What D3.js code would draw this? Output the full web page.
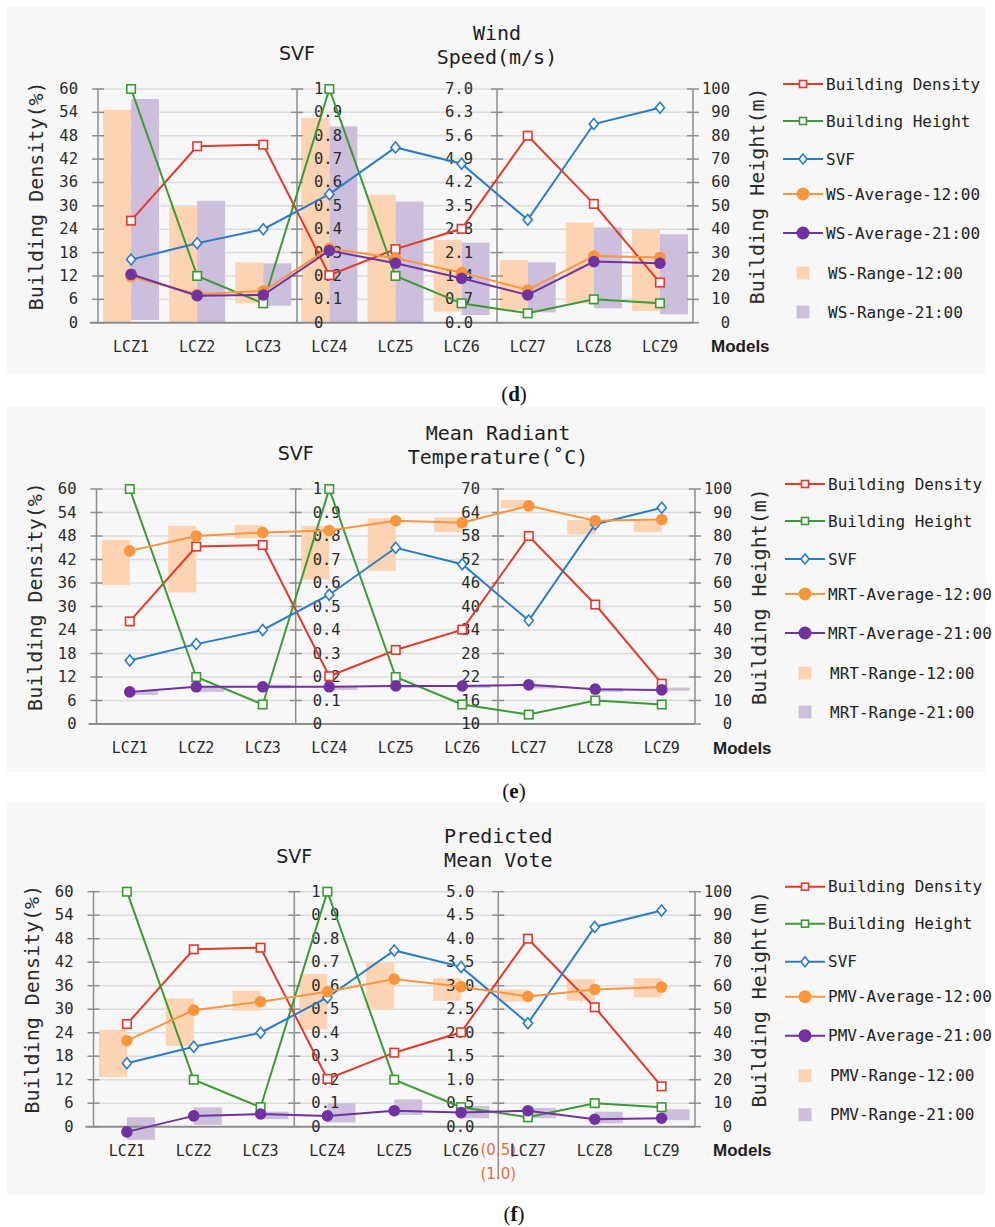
<!DOCTYPE html>
<html>
<head>
<meta charset="utf-8">
<script src="https://cdn.jsdelivr.net/npm/d3@7"></script>
<style>
  body { margin: 0; background: #fff; }
  svg text { fill: #2a2a2a; }
</style>
</head>
<body>
<svg id="chart" width="995" height="1227"></svg>
<script>
'use strict'

// shared x categories and building descriptors
const categories = ['LCZ1', 'LCZ2', 'LCZ3', 'LCZ4', 'LCZ5', 'LCZ6', 'LCZ7', 'LCZ8', 'LCZ9']
const buildingDensity = [26.2, 45.3, 45.7, 12.2, 18.9, 24.1, 48.0, 30.5, 10.3]
const buildingHeight = [100, 20, 8.3, 100, 20, 8.3, 4, 10, 8.3]
const svf = [0.27, 0.34, 0.40, 0.55, 0.75, 0.68, 0.44, 0.85, 0.92]

// tick values
const densityTicks = d3.range(0, 61, 6)
const heightTicks = d3.range(0, 101, 10)
const svfTicks = d3.range(0, 11).map(d => d / 10)
const wsTicks = d3.range(0, 11).map(d => d * 0.7)
const mrtTicks = d3.range(10, 71, 6)
const pmvTicks = d3.range(0, 11).map(d => d * 0.5)
const pmvNegTicks = [-0.5, -1.0]

// (d) wind speed
const wsAvg12 = [1.38, 0.85, 0.95, 2.23, 1.93, 1.50, 0.98, 2.00, 1.95]
const wsAvg21 = [1.45, 0.81, 0.83, 2.16, 1.78, 1.33, 0.83, 1.83, 1.78]
const wsRange12Low = [0, 0, 0.58, 0, 0, 0.33, 0.38, 0.58, 0.35]
const wsRange12High = [6.38, 3.48, 1.81, 6.13, 3.83, 2.48, 1.88, 3.00, 2.78]
const wsRange21Low = [0.08, 0, 0.51, 0, 0, 0.23, 0.31, 0.43, 0.25]
const wsRange21High = [6.70, 3.65, 1.78, 5.88, 3.63, 2.40, 1.81, 2.85, 2.65]

// (e) mean radiant temperature
const mrtAvg12 = [54.2, 58.0, 58.9, 59.4, 61.9, 61.4, 65.7, 61.9, 62.2]
const mrtAvg21 = [18.2, 19.5, 19.5, 19.5, 19.7, 19.7, 20.0, 18.9, 18.7]
const mrtRange12Low = [45.5, 43.6, 57.4, 46.9, 49.1, 59.0, 65.1, 58.4, 59.0]
const mrtRange12High = [57.0, 60.6, 60.8, 60.6, 62.5, 62.8, 67.2, 62.1, 61.9]
const mrtRange21Low = [17.4, 18.2, 19.1, 18.7, 19.2, 19.2, 19.1, 18.2, 18.5]
const mrtRange21High = [18.5, 19.5, 20.0, 19.7, 20.0, 20.0, 20.0, 19.1, 19.3]

// (f) predicted mean vote
const pmvAvg12 = [1.83, 2.48, 2.66, 2.87, 3.14, 2.98, 2.77, 2.92, 2.97]
const pmvAvg21 = [-0.11, 0.23, 0.27, 0.23, 0.34, 0.30, 0.34, 0.16, 0.18]
const pmvRange12Low = [1.06, 1.72, 2.47, 2.07, 2.50, 2.68, 2.66, 2.68, 2.75]
const pmvRange12High = [2.06, 2.73, 2.89, 3.25, 3.48, 3.16, 2.92, 3.14, 3.16]
const pmvRange21Low = [-0.28, 0.04, 0.16, 0.09, 0.25, 0.18, 0.18, 0.07, 0.14]
const pmvRange21High = [0.20, 0.41, 0.32, 0.50, 0.58, 0.44, 0.40, 0.32, 0.37]

const colors = {
  density: '#e3392b',
  height: '#3c9a35',
  svf: '#2b7cc6',
  avg12: '#f9963d',
  avg21: '#7231a1',
  range12: '#fdd4b3',
  range21: '#cdbfdc',
  axis: '#8e8e8e',
  grid: '#dcdcdc',
  bg: '#f7f7f7'
}
const mono = "'DejaVu Sans Mono', 'Liberation Mono', monospace"
const legendOffsets = [-5, 32, 70, 105, 144, 184, 223]

const panels = [
  {
    label: 'd', prefix: 'WS', title: ['Wind', 'Speed(m/s)'], domain: [0, 7], ticks: wsTicks, fmt: d3.format('.1f'),
    avg12: wsAvg12, avg21: wsAvg21, r12: [wsRange12Low, wsRange12High], r21: [wsRange21Low, wsRange21High],
    bgTop: 7, bgBottom: 373, top: 89, bottom: 322.7, x0: 98, x1: 693, svfX: 297, thirdX: 497, thirdOff: 24, labelY: 401
  },
  {
    label: 'e', prefix: 'MRT', title: ['Mean Radiant', 'Temperature(\u02daC)'], domain: [10, 70], ticks: mrtTicks, fmt: d3.format('d'),
    avg12: mrtAvg12, avg21: mrtAvg21, r12: [mrtRange12Low, mrtRange12High], r21: [mrtRange21Low, mrtRange21High],
    bgTop: 407, bgBottom: 772, top: 489, bottom: 724, x0: 96.5, x1: 695, svfX: 295.7, thirdX: 498, thirdOff: 18, labelY: 798
  },
  {
    label: 'f', prefix: 'PMV', title: ['Predicted', 'Mean Vote'], domain: [0, 5], ticks: pmvTicks, fmt: d3.format('.1f'),
    avg12: pmvAvg12, avg21: pmvAvg21, r12: [pmvRange12Low, pmvRange12High], r21: [pmvRange21Low, pmvRange21High],
    negTicks: pmvNegTicks,
    bgTop: 803, bgBottom: 1195, top: 891.7, bottom: 1126.7, x0: 93.5, x1: 695, svfX: 294.3, thirdX: 498.3, thirdOff: 24, labelY: 1221
  }
]

function drawMarker (sel, type, color, small) {
  if (type === 'circle') {
    sel.append('circle').attr('r', small ? 6.5 : 5.8).attr('fill', color)
  } else if (type === 'square') {
    const s = small ? 7 : 8.5
    sel.append('rect').attr('x', -s / 2).attr('y', -s / 2).attr('width', s).attr('height', s)
      .attr('fill', colors.bg).attr('stroke', color).attr('stroke-width', 1.6)
  } else if (type === 'diamond') {
    const h = small ? 5 : 5.5
    const w = small ? 4 : 4.6
    sel.append('path').attr('d', `M0,${-h}L${w},0L0,${h}L${-w},0Z`)
      .attr('fill', colors.bg).attr('stroke', color).attr('stroke-width', 1.6)
  } else if (type === 'patch') {
    sel.append('rect').attr('x', -6.5).attr('y', -6.5).attr('width', 13).attr('height', 13).attr('fill', color)
  }
}

function drawPanel (svg, p) {
  const g = svg.append('g')
  g.append('rect').attr('x', 7).attr('y', p.bgTop).attr('width', 978)
    .attr('height', p.bgBottom - p.bgTop).attr('fill', colors.bg)

  const x = d3.scaleBand().domain(categories).range([p.x0, p.x1])
  const cx = d => x(d) + x.bandwidth() / 2
  const yLeft = d3.scaleLinear().domain([0, 60]).range([p.bottom, p.top])
  const ySvf = d3.scaleLinear().domain([0, 1]).range([p.bottom, p.top])
  const yThird = d3.scaleLinear().domain(p.domain).range([p.bottom, p.top])
  const yRight = d3.scaleLinear().domain([0, 100]).range([p.bottom, p.top])

  // horizontal gridlines
  g.append('g').selectAll('line').data(densityTicks.filter(d => d > 0)).enter().append('line')
    .attr('x1', p.x0).attr('x2', p.x1)
    .attr('y1', d => yLeft(d)).attr('y2', d => yLeft(d))
    .attr('stroke', colors.grid).attr('stroke-width', 1.5)

  // range bars
  const barW = 28
  g.append('g').selectAll('rect').data(categories).enter().append('rect')
    .attr('x', d => cx(d) - barW)
    .attr('y', (d, i) => yThird(p.r12[1][i]))
    .attr('width', barW)
    .attr('height', (d, i) => yThird(p.r12[0][i]) - yThird(p.r12[1][i]))
    .attr('fill', colors.range12)
  g.append('g').selectAll('rect').data(categories).enter().append('rect')
    .attr('x', d => cx(d))
    .attr('y', (d, i) => yThird(p.r21[1][i]))
    .attr('width', barW)
    .attr('height', (d, i) => yThird(p.r21[0][i]) - yThird(p.r21[1][i]))
    .attr('fill', colors.range21)

  // bottom axis line
  g.append('line').attr('x1', p.x0 - 8).attr('x2', p.x1).attr('y1', p.bottom).attr('y2', p.bottom)
    .attr('stroke', colors.axis).attr('stroke-width', 2)

  // vertical axes with crossing ticks
  const axes = [p.x0, p.svfX, p.thirdX, p.x1]
  axes.forEach(ax => {
    const yEnd = (ax === p.thirdX && p.negTicks) ? yThird(-1.12) : p.bottom
    g.append('line').attr('x1', ax).attr('x2', ax).attr('y1', p.top).attr('y2', yEnd)
      .attr('stroke', colors.axis).attr('stroke-width', 1.5)
    g.append('g').selectAll('line').data(densityTicks).enter().append('line')
      .attr('x1', ax - 6).attr('x2', ax + 6)
      .attr('y1', d => yLeft(d)).attr('y2', d => yLeft(d))
      .attr('stroke', colors.axis).attr('stroke-width', 1.5)
  })

  // tick labels
  const tickFont = sel => sel.style('font-family', mono).style('font-size', '15.5px').attr('dominant-baseline', 'central')
  g.append('g').selectAll('text').data(densityTicks).enter().append('text')
    .attr('x', p.x0 - 20).attr('y', d => yLeft(d)).attr('text-anchor', 'end')
    .text(d => d).call(tickFont)
  g.append('g').selectAll('text').data(svfTicks).enter().append('text')
    .attr('x', p.svfX + 17).attr('y', d => ySvf(d)).attr('text-anchor', 'start')
    .text(d => d3.format('')(+d.toFixed(1))).call(tickFont)
  g.append('g').selectAll('text').data(p.ticks).enter().append('text')
    .attr('x', p.thirdX - p.thirdOff).attr('y', d => yThird(d)).attr('text-anchor', 'end')
    .text(d => p.fmt(d)).call(tickFont)
  g.append('g').selectAll('text').data(heightTicks).enter().append('text')
    .attr('x', p.x1 + 37).attr('y', d => yRight(d)).attr('text-anchor', 'end')
    .text(d => d).call(tickFont)
  if (p.negTicks) {
    g.append('g').selectAll('text').data(p.negTicks).enter().append('text')
      .attr('x', p.thirdX).attr('y', d => yThird(d)).attr('text-anchor', 'middle')
      .attr('dominant-baseline', 'central')
      .style('font-family', "'DejaVu Sans', sans-serif").style('font-size', '15px')
      .style('fill', '#f4673b')
      .text(d => '(' + d3.format('.1f')(-d) + ')')
  }

  // category labels
  g.append('g').selectAll('text').data(categories).enter().append('text')
    .attr('x', d => cx(d)).attr('y', p.bottom + 24).attr('text-anchor', 'middle')
    .attr('dominant-baseline', 'central')
    .style('font-family', mono).style('font-size', '15px')
    .text(d => d)
  g.append('text').attr('x', p.x1 + 18).attr('y', p.bottom + 24)
    .attr('dominant-baseline', 'central')
    .style('font-family', "'Liberation Sans', Arial, sans-serif").style('font-size', '17px')
    .style('font-weight', 'bold').style('fill', '#1e1e1e')
    .text('Models')

  // series
  const series = [
    { name: 'Building Density', values: buildingDensity, y: yLeft, color: colors.density, marker: 'square' },
    { name: 'Building Height', values: buildingHeight, y: yRight, color: colors.height, marker: 'square' },
    { name: 'SVF', values: svf, y: ySvf, color: colors.svf, marker: 'diamond' },
    { name: p.prefix + '-Average-12:00', values: p.avg12, y: yThird, color: colors.avg12, marker: 'circle' },
    { name: p.prefix + '-Average-21:00', values: p.avg21, y: yThird, color: colors.avg21, marker: 'circle' }
  ]
  series.forEach(s => {
    const line = d3.line().x((d, i) => cx(categories[i])).y(d => s.y(d))
    g.append('path').datum(s.values).attr('d', line)
      .attr('fill', 'none').attr('stroke', s.color).attr('stroke-width', 2)
    g.append('g').selectAll('g').data(s.values).enter().append('g')
      .attr('transform', (d, i) => `translate(${cx(categories[i])},${s.y(d)})`)
      .each(function () { drawMarker(d3.select(this), s.marker, s.color, false) })
  })

  // legend
  const legend = series.map(s => ({ name: s.name, color: s.color, marker: s.marker, line: true }))
    .concat([
      { name: p.prefix + '-Range-12:00', color: colors.range12, marker: 'patch', line: false },
      { name: p.prefix + '-Range-21:00', color: colors.range21, marker: 'patch', line: false }
    ])
  const lx = p.x1 + 90
  legend.forEach((item, i) => {
    const ly = p.top + legendOffsets[i]
    const row = g.append('g').attr('transform', `translate(${lx},${ly})`)
    if (item.line) {
      row.append('line').attr('x1', 0).attr('x2', 40).attr('y1', 0).attr('y2', 0)
        .attr('stroke', item.color).attr('stroke-width', 2)
    }
    const m = row.append('g').attr('transform', 'translate(20,0)')
    drawMarker(m, item.marker, item.color, true)
    row.append('text').attr('x', item.line ? 43 : 45).attr('y', 0).attr('dominant-baseline', 'central')
      .style('font-family', mono).style('font-size', '16px').style('fill', '#222')
      .text(item.name)
  })

  // axis titles
  const midY = (p.top + p.bottom) / 2 - 10
  g.append('text').attr('transform', `translate(${p.x0 - 62},${midY}) rotate(-90)`)
    .attr('text-anchor', 'middle').attr('dominant-baseline', 'central')
    .style('font-family', mono).style('font-size', '20px')
    .text('Building Density(%)')
  g.append('text').attr('transform', `translate(${p.x1 + 64},${midY}) rotate(-90)`)
    .attr('text-anchor', 'middle').attr('dominant-baseline', 'central')
    .style('font-family', mono).style('font-size', '20px')
    .text('Building Height(m)')

  // top titles
  g.append('text').attr('x', p.svfX).attr('y', p.top - 36)
    .attr('text-anchor', 'middle').attr('dominant-baseline', 'central')
    .style('font-family', "'DejaVu Sans', sans-serif").style('font-size', '19px').style('fill', '#1e1e1e')
    .text('SVF')
  p.title.forEach((t, i) => {
    g.append('text').attr('x', p.thirdX).attr('y', p.top - 56 + i * 24)
      .attr('text-anchor', 'middle').attr('dominant-baseline', 'central')
      .style('font-family', mono).style('font-size', '20px').style('fill', '#1e1e1e')
      .text(t)
  })

  // panel label
  const lab = svg.append('text').attr('x', 514).attr('y', p.labelY).attr('text-anchor', 'middle')
    .style('font-family', "'Liberation Serif', 'Times New Roman', serif").style('font-size', '21px')
    .style('fill', '#111')
  lab.append('tspan').text('(')
  lab.append('tspan').style('font-weight', 'bold').text(p.label)
  lab.append('tspan').text(')')
}

const svg = d3.select('#chart')
panels.forEach(p => drawPanel(svg, p))
</script>
</body>
</html>
